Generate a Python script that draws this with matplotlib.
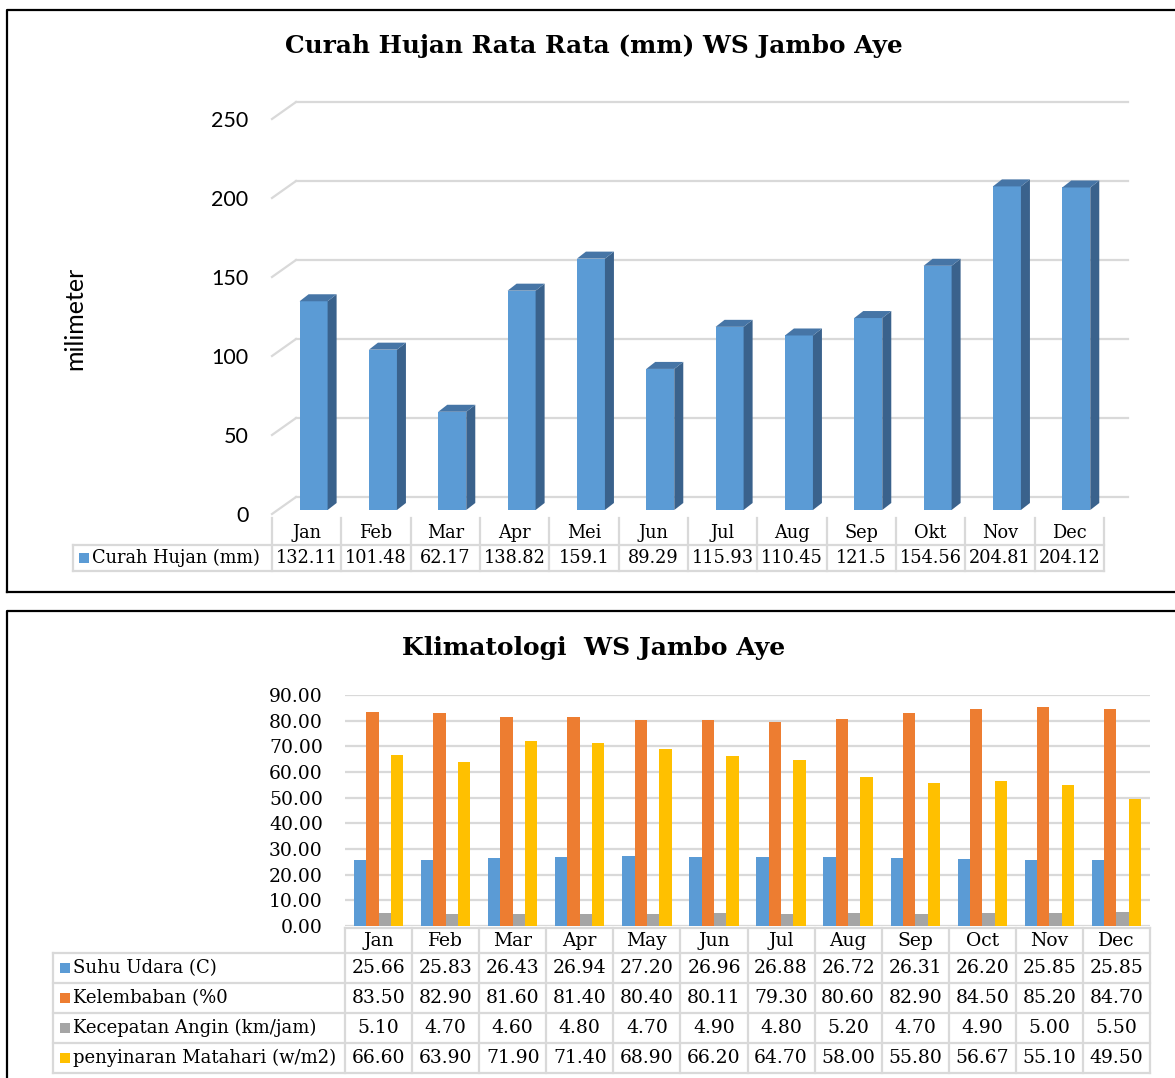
import numpy as np
import matplotlib.pyplot as plt
from matplotlib.patches import Polygon, Rectangle

# figure size in pixels (dpi 100)
W, H = 1175, 1078

# ---- data: top chart (curah hujan) ----
bulan_hujan = ['Jan', 'Feb', 'Mar', 'Apr', 'Mei', 'Jun', 'Jul', 'Aug', 'Sep', 'Okt', 'Nov', 'Dec']
curah_hujan = [132.11, 101.48, 62.17, 138.82, 159.1, 89.29, 115.93, 110.45, 121.5, 154.56, 204.81, 204.12]
hujan_label = 'Curah Hujan (mm)'

# ---- data: bottom chart (klimatologi) ----
bulan_klim = ['Jan', 'Feb', 'Mar', 'Apr', 'May', 'Jun', 'Jul', 'Aug', 'Sep', 'Oct', 'Nov', 'Dec']
suhu = [25.66, 25.83, 26.43, 26.94, 27.20, 26.96, 26.88, 26.72, 26.31, 26.20, 25.85, 25.85]
kelembaban = [83.50, 82.90, 81.60, 81.40, 80.40, 80.11, 79.30, 80.60, 82.90, 84.50, 85.20, 84.70]
angin = [5.10, 4.70, 4.60, 4.80, 4.70, 4.90, 4.80, 5.20, 4.70, 4.90, 5.00, 5.50]
penyinaran = [66.60, 63.90, 71.90, 71.40, 68.90, 66.20, 64.70, 58.00, 55.80, 56.67, 55.10, 49.50]
klim_labels = ['Suhu Udara (C)', 'Kelembaban (%0', 'Kecepatan Angin (km/jam)', 'penyinaran Matahari (w/m2)']

klim_series = [suhu, kelembaban, angin, penyinaran]
klim_colors = ['#5B9BD5', '#ED7D31', '#A5A5A5', '#FFC000']

SERIF = 'DejaVu Serif'
SANS = 'Lato'
GRID = '#D9D9D9'


def px_axes(fig, left, top, right, bottom):
    return fig.add_axes([left / W, 1 - bottom / H, (right - left) / W, (bottom - top) / H])


fig = plt.figure(figsize=(W / 100, H / 100), dpi=100)

# overlay canvas in pixel coords for frames, tables and titles
cv = fig.add_axes([0, 0, 1, 1], zorder=5)
cv.set_xlim(0, W)
cv.set_ylim(H, 0)
cv.axis('off')
cv.patch.set_alpha(0)

# outer frames
cv.plot([7, 7, W + 5], [592, 10, 10], color='black', lw=1.6, clip_on=False)
cv.plot([7, W + 5], [592, 592], color='black', lw=1.6)
cv.plot([7, 7, W + 5], [H + 5, 611, 611], color='black', lw=1.6, clip_on=False)

# ================= top chart =================
cv.text(594, 46, 'Curah Hujan Rata Rata (mm) WS Jambo Aye', family=SERIF,
        fontweight='bold', fontsize=17.8, ha='center', va='center')

ax1 = px_axes(fig, 272, 119, 1104, 514)
ax1.set_xlim(-0.5, 11.5)
ax1.set_ylim(0, 250)
for s in ax1.spines.values():
    s.set_visible(False)
ax1.set_xticks([])
ax1.set_yticks(np.arange(0, 251, 50))
ax1.tick_params(axis='y', length=0, pad=17, labelsize=15.5)
for lab in ax1.get_yticklabels():
    lab.set_family(SANS)
cv.text(75, 318, 'milimeter', family=SANS, fontsize=18, rotation=90, ha='center', va='center')

# pseudo 3d walls
col_w = (1104 - 272) / 12.0
px_per_val = (514 - 119) / 250.0
wdx = 24 / col_w
wdy = 17 / px_per_val
for v in range(0, 251, 50):
    ax1.plot([-0.5, -0.5 + wdx], [v, v + wdy], color=GRID, lw=1.6, clip_on=False, zorder=1)
    ax1.plot([-0.5 + wdx, 11.5 + wdx], [v + wdy, v + wdy], color=GRID, lw=1.6, clip_on=False, zorder=1)

# 3d bars
xs = np.arange(len(bulan_hujan))
bw = 0.404
bdx = 9 / col_w
bdy = 7 / px_per_val
base = 4 / px_per_val
ax1.bar(xs + 0.1, curah_hujan, width=bw, bottom=base, color='#5B9BD5', zorder=3)
for x, v in zip(xs + 0.1, curah_hujan):
    xl, xr = x - bw / 2, x + bw / 2
    top = v + base
    ax1.add_patch(Polygon([(xr, base), (xr + bdx, base + bdy), (xr + bdx, top + bdy), (xr, top)],
                          closed=True, facecolor='#3A628C', edgecolor='none', zorder=3, clip_on=False))
    ax1.add_patch(Polygon([(xl, top), (xl + bdx, top + bdy), (xr + bdx, top + bdy), (xr, top)],
                          closed=True, facecolor='#4675A6', edgecolor='none', zorder=3, clip_on=False))

# top data table
t_left, t_x0, t_x1 = 73, 272, 1104
for i in range(13):
    cv.plot([t_x0 + i * col_w] * 2, [518, 571], color=GRID, lw=1.6)
cv.plot([t_left, t_left], [545, 571], color=GRID, lw=1.6)
cv.plot([t_left, t_x1], [545, 545], color=GRID, lw=1.6)
cv.plot([t_left, t_x1], [571, 571], color=GRID, lw=1.6)
for i, (m, v) in enumerate(zip(bulan_hujan, curah_hujan)):
    cx = t_x0 + (i + 0.5) * col_w
    cv.text(cx, 533, m, family=SERIF, fontsize=12.8, ha='center', va='center')
    cv.text(cx, 558, f'{v:g}', family=SERIF, fontsize=12.8, ha='center', va='center')
cv.add_patch(Rectangle((79, 553), 10, 10, facecolor='#5B9BD5', edgecolor='none'))
cv.text(92, 558, hujan_label, family=SERIF, fontsize=12.8, ha='left', va='center')

# ================= bottom chart =================
cv.text(594, 648, 'Klimatologi  WS Jambo Aye', family=SERIF,
        fontweight='bold', fontsize=18, ha='center', va='center')

b_x0, b_x1 = 345, 1150
ax2 = px_axes(fig, b_x0, 695, b_x1, 926)
ax2.set_xlim(-0.5, 11.5)
ax2.set_ylim(0, 90)
for s in ax2.spines.values():
    s.set_visible(False)
ax2.set_xticks([])
ax2.set_yticks(np.arange(0, 91, 10))
ax2.set_yticklabels([f'{t:.2f}' for t in np.arange(0, 91, 10)])
ax2.tick_params(axis='y', length=0, pad=16, labelsize=13.5)
for lab in ax2.get_yticklabels():
    lab.set_family(SERIF)
ax2.grid(axis='y', color=GRID, lw=1.6)
ax2.set_axisbelow(True)

xk = np.arange(len(bulan_klim))
kw = 0.184
for k, (vals, c) in enumerate(zip(klim_series, klim_colors)):
    ax2.bar(xk + (k - 1.5) * kw, vals, width=kw, color=c, zorder=3)

# bottom data table
bcol = (b_x1 - b_x0) / 12.0
rows_y = [953, 983, 1013, 1043, 1073]
for i in range(13):
    cv.plot([b_x0 + i * bcol] * 2, [928, 1073], color=GRID, lw=1.6)
cv.plot([b_x0, b_x1], [928, 928], color=GRID, lw=1.6)
cv.plot([53, 53], [953, 1073], color=GRID, lw=1.6)
for y in rows_y:
    cv.plot([53, b_x1], [y, y], color=GRID, lw=1.6)
for i, m in enumerate(bulan_klim):
    cv.text(b_x0 + (i + 0.5) * bcol, 941, m, family=SERIF, fontsize=13.5, ha='center', va='center')
for r, (vals, c, lab) in enumerate(zip(klim_series, klim_colors, klim_labels)):
    yc = (rows_y[r] + rows_y[r + 1]) / 2
    cv.add_patch(Rectangle((60, yc - 5), 10, 10, facecolor=c, edgecolor='none'))
    cv.text(73, yc, lab, family=SERIF, fontsize=13.0, ha='left', va='center')
    for i, v in enumerate(vals):
        cv.text(b_x0 + (i + 0.5) * bcol, yc, f'{v:.2f}', family=SERIF, fontsize=13.5,
                ha='center', va='center')

fig.savefig('out.png', dpi=100)
